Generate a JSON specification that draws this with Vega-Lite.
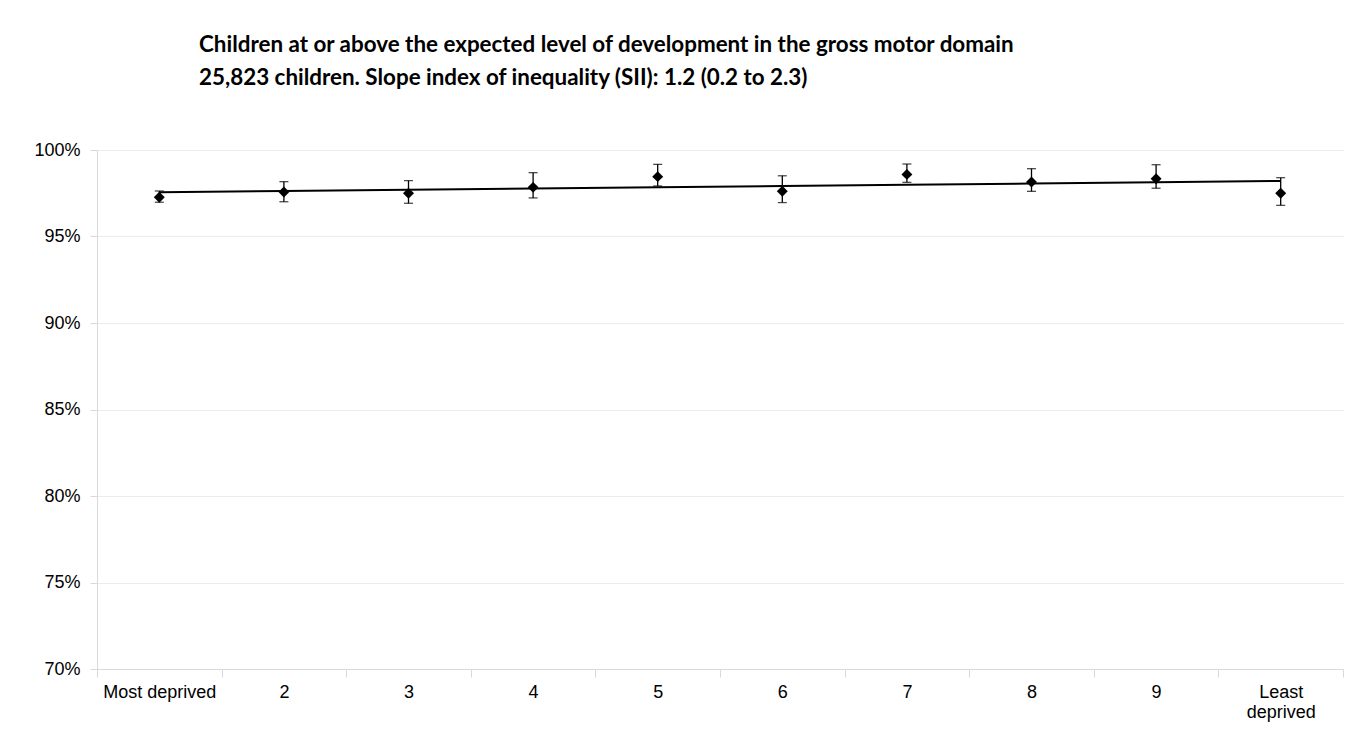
{
  "$schema": "https://vega.github.io/schema/vega-lite/v6.json",
  "autosize": {"type": "none"},
  "padding": {"left": 97, "top": 150, "right": 23, "bottom": 76},
  "width": 1246,
  "height": 519,
  "background": "white",
  "title": {
    "text": ["Children at or above the expected level of development in the gross motor domain", "25,823 children. Slope index of inequality (SII): 1.2 (0.2 to 2.3)"],
    "anchor": "start",
    "frame": "group",
    "dx": 102,
    "offset": 52,
    "font": "Lato",
    "fontSize": 22.4,
    "fontWeight": "bold",
    "color": "black",
    "lineHeight": 33
  },
  "config": {
    "view": {"stroke": null},
    "axis": {"labelFont": "Liberation Sans", "labelFontSize": 18, "labelColor": "black", "domainColor": "#d9d9d9", "tickColor": "#d9d9d9", "gridColor": "#ececec", "titleFont": "Liberation Sans"}
  },
  "data": {
    "values": [
      {"quintile": "Most deprived", "value": 97.27, "low": 96.98, "high": 97.63, "trend": 97.56},
      {"quintile": "2", "value": 97.57, "low": 97.01, "high": 98.17, "trend": 97.63},
      {"quintile": "3", "value": 97.50, "low": 96.92, "high": 98.23, "trend": 97.70},
      {"quintile": "4", "value": 97.84, "low": 97.23, "high": 98.69, "trend": 97.77},
      {"quintile": "5", "value": 98.46, "low": 97.92, "high": 99.17, "trend": 97.85},
      {"quintile": "6", "value": 97.61, "low": 96.96, "high": 98.51, "trend": 97.92},
      {"quintile": "7", "value": 98.59, "low": 98.13, "high": 99.19, "trend": 97.99},
      {"quintile": "8", "value": 98.15, "low": 97.61, "high": 98.92, "trend": 98.06},
      {"quintile": "9", "value": 98.34, "low": 97.79, "high": 99.15, "trend": 98.14},
      {"quintile": "Least deprived", "value": 97.50, "low": 96.80, "high": 98.40, "trend": 98.21}
    ]
  },
  "encoding": {
    "x": {
      "field": "quintile",
      "type": "nominal",
      "sort": null,
      "title": null,
      "axis": {
        "labelAngle": 0,
        "tickBand": "extent",
        "tickSize": 8,
        "labelPadding": 6,
        "grid": false,
        "labelExpr": "datum.label == 'Least deprived' ? ['Least', 'deprived'] : datum.label",
        "labelLineHeight": 20
      }
    }
  },
  "layer": [
    {
      "mark": {"type": "line", "color": "black", "strokeWidth": 2},
      "encoding": {
        "y": {
          "field": "trend",
          "type": "quantitative",
          "scale": {"domain": [70, 100]},
          "title": null,
          "axis": {"values": [70, 75, 80, 85, 90, 95, 100], "labelExpr": "datum.value + '%'", "tickSize": 7, "labelPadding": 10, "grid": true}
        }
      }
    },
    {
      "mark": {"type": "rule", "color": "black", "strokeWidth": 1.3},
      "encoding": {"y": {"field": "low", "type": "quantitative"}, "y2": {"field": "high"}}
    },
    {
      "mark": {"type": "tick", "color": "black", "orient": "horizontal", "size": 9, "thickness": 1.3},
      "encoding": {"y": {"field": "low", "type": "quantitative"}}
    },
    {
      "mark": {"type": "tick", "color": "black", "orient": "horizontal", "size": 9, "thickness": 1.3},
      "encoding": {"y": {"field": "high", "type": "quantitative"}}
    },
    {
      "mark": {"type": "point", "shape": "diamond", "filled": true, "color": "black", "size": 120, "opacity": 1},
      "encoding": {"y": {"field": "value", "type": "quantitative"}}
    }
  ]
}
